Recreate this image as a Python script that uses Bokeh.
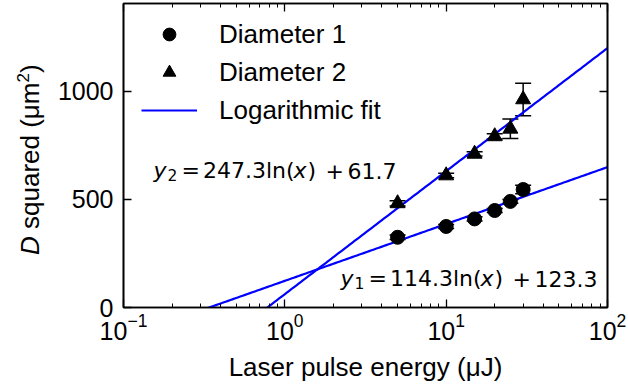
import numpy as np
from bokeh.plotting import figure
from bokeh.layouts import row
from bokeh.models import (Range1d, FixedTicker, LogAxis, LinearAxis, Whisker, TeeHead, Div,
                          ColumnDataSource, Legend, LegendItem, Label, CustomJSTickFormatter)
from bokeh.embed import file_html
from bokeh.resources import INLINE

# ---- data ----
energy = [5, 10, 15, 20, 25, 30]
d1_sq = [325, 375, 410, 449, 491, 546]
d1_err = [10, 9, 10, 9, 9, 20]
d2_sq = [482, 611, 711, 792, 827, 963]
d2_err = [12, 10, 10, 12, 45, 75]
fit1 = (114.3, 123.3)   # slope, intercept of y1 = a ln(x) + b
fit2 = (247.3, 61.7)
y_ticks = [0, 500, 1000]
x_ticks = [0.1, 1, 10, 100]

FONT = "Liberation Sans"
MFONT = "DejaVu Sans"
LEFT_W = 45

p = figure(width=628 - LEFT_W, height=385, x_axis_type="log",
           x_range=Range1d(0.1, 100), y_range=Range1d(0, 1407),
           output_backend="svg", toolbar_location=None,
           min_border_left=123 - LEFT_W, min_border_right=21,
           min_border_top=3, min_border_bottom=78, margin=0)
p.xgrid.visible = False
p.ygrid.visible = False
p.outline_line_color = "black"
p.outline_line_width = 1.6

minor = [m * d for d in [0.1, 1, 10] for m in range(2, 10)]
xt = FixedTicker(ticks=x_ticks, minor_ticks=minor)
yt = FixedTicker(ticks=y_ticks, minor_ticks=[])

def style(ax, labels=True):
    ax.axis_line_color = "black"
    ax.axis_line_width = 1.6
    ax.major_tick_in = 8
    ax.major_tick_out = 0
    ax.minor_tick_in = 4
    ax.minor_tick_out = 0
    ax.major_tick_line_width = 1.3
    ax.minor_tick_line_width = 1.0
    ax.major_tick_line_color = "black"
    ax.minor_tick_line_color = "black"
    ax.major_label_text_font = FONT
    ax.major_label_text_color = "black"
    if labels:
        ax.major_label_text_font_size = "25px"
    else:
        ax.formatter = CustomJSTickFormatter(code="return ''")
        ax.major_label_text_font_size = "1px"
        ax.major_label_text_alpha = 0
        ax.major_label_standoff = 0

xa = p.xaxis[0]
xa.ticker = xt
style(xa)
xa.major_label_standoff = 5
xa.axis_label = "Laser pulse energy (μJ)"
xa.axis_label_text_font = FONT
xa.axis_label_text_font_size = "26px"
xa.axis_label_text_font_style = "normal"
xa.axis_label_text_color = "black"
xa.axis_label_standoff = 9

ya = p.yaxis[0]
ya.ticker = yt
style(ya)
ya.major_label_standoff = 10

top = LogAxis(ticker=xt)
style(top, labels=False)
p.add_layout(top, "above")
right = LinearAxis(ticker=yt)
style(right, labels=False)
p.add_layout(right, "right")

# fit lines
xs = np.logspace(-1, 2, 200)
l1 = p.line(xs, fit1[0] * np.log(xs) + fit1[1], line_color="#0000ff", line_width=2.2)
l2 = p.line(xs, fit2[0] * np.log(xs) + fit2[1], line_color="#0000ff", line_width=2.2)

src1 = ColumnDataSource(dict(x=energy, y=d1_sq, lo=[a - b for a, b in zip(d1_sq, d1_err)],
                             hi=[a + b for a, b in zip(d1_sq, d1_err)]))
src2 = ColumnDataSource(dict(x=energy, y=d2_sq, lo=[a - b for a, b in zip(d2_sq, d2_err)],
                             hi=[a + b for a, b in zip(d2_sq, d2_err)]))
for s in (src1, src2):
    w = Whisker(source=s, base="x", lower="lo", upper="hi", line_color="black", line_width=1.5,
                upper_head=TeeHead(size=16, line_color="black", line_width=1.5),
                lower_head=TeeHead(size=16, line_color="black", line_width=1.5))
    p.add_layout(w)

c1 = p.scatter("x", "y", source=src1, marker="circle", size=14, color="black")
c2 = p.scatter("x", "y", source=src2, marker="triangle", size=15, color="black")

legend = Legend(items=[LegendItem(label="Diameter 1", renderers=[c1]),
                       LegendItem(label="Diameter 2", renderers=[c2]),
                       LegendItem(label="Logarithmic fit", renderers=[l1])],
                location=(18, 181), padding=5, spacing=6, glyph_width=56, glyph_height=32,
                label_standoff=22, label_text_font=FONT, label_text_font_size="26px",
                label_text_color="black", border_line_color=None, background_fill_alpha=0)
p.add_layout(legend)

# equation annotations, token by token (italic variables, smaller subscript)
def equation(x0, y0, sub, coef, const):
    pieces = [("y", "italic", 0, 0, 22), (sub, "normal", 14, -4, 15.5),
              ("=", "normal", 28, 0, 22), (coef + "ln(", "normal", 49.5, 0, 22),
              ("x", "italic", 140, 0, 22), (")", "normal", 154, 0, 22),
              ("+", "normal", 172, 0, 22), (const, "normal", 194, 0, 22)]
    for txt, st, dx, dy, fs in pieces:
        p.add_layout(Label(x=x0 + dx, y=y0 + dy, x_units="screen", y_units="screen", text=txt,
                           text_font=MFONT, text_font_size=f"{fs}px", text_font_style=st,
                           text_baseline="alphabetic", text_align="left", text_color="black"))

equation(30, 137, "2", f"{fit2[0]}", f"{fit2[1]}")
equation(217, 29, "1", f"{fit1[0]}", f"{fit1[1]}")

ylab = Div(text=('<div style="position:absolute; left:11px; top:255px; transform-origin:0 0;'
                 ' transform:rotate(-90deg); white-space:nowrap; font-family:\'Liberation Sans\';'
                 ' font-size:26px; line-height:26px; color:black;">'
                 '<i>D</i> squared (μm<sup style="font-size:17px">2</sup>)</div>'),
           width=LEFT_W, height=385, margin=0)

layout = row(ylab, p, spacing=0)
open("out.html", "w").write(file_html(layout, INLINE))
